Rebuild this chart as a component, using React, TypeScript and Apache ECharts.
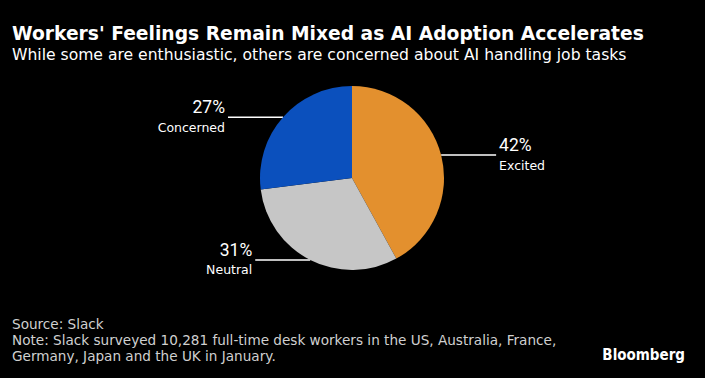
import React, { useEffect, useRef } from "react";
import * as echarts from "echarts";

const categories = ["Excited", "Neutral", "Concerned"];
const values = [42, 31, 27];
const colors = ["#E3902E", "#C6C6C6", "#0B50BD"];

const FONT = "'DejaVu Sans', sans-serif";
const COND = "'DejaVu Sans Condensed', 'DejaVu Sans', sans-serif";
const PCT = "Roboto, 'DejaVu Sans Condensed', sans-serif";

const title = "Workers' Feelings Remain Mixed as AI Adoption Accelerates";
const subtitle = "While some are enthusiastic, others are concerned about AI handling job tasks";
const footer = [
  "Source: Slack",
  "Note: Slack surveyed 10,281 full-time desk workers in the US, Australia, France,",
  "Germany, Japan and the UK in January.",
];

export default function App() {
  const ref = useRef<HTMLDivElement>(null);
  useEffect(() => {
    document.body.style.margin = "0";
    document.body.style.background = "#000";
    const chart = echarts.init(ref.current!, null, { renderer: "svg" });
    chart.setOption({
      animation: false,
      backgroundColor: "#000",
      graphic: [
        { type: "text", x: 12, y: 33, style: { text: title, fill: "#fff", font: `bold 18.7px ${FONT}`, verticalAlign: "middle" } },
        { type: "text", x: 12, y: 55, style: { text: subtitle, fill: "#fff", font: `15.6px ${FONT}`, verticalAlign: "middle" } },
        ...footer.map((t, i) => ({
          type: "text",
          x: 12,
          y: 324 + i * 16,
          style: { text: t, fill: "#d0d0d0", font: `13.6px ${FONT}`, verticalAlign: "middle" },
        })),
        { type: "text", x: 685, y: 355, style: { text: "Bloomberg", fill: "#fff", font: `bold 15px ${COND}`, align: "right", verticalAlign: "middle" } },
      ],
      series: [
        {
          type: "pie",
          center: [352, 178],
          radius: [0, 92],
          startAngle: 90,
          clockwise: true,
          avoidLabelOverlap: false,
          itemStyle: { borderWidth: 0 },
          label: {
            show: true,
            position: "outside",
            formatter: (p: any) => `{p|${p.value}%}\n{n|${p.name}}`,
            distanceToLabelLine: 3,
            rich: {
              p: { fontSize: 17.5, fontWeight: 400, color: "#fff", fontFamily: PCT, lineHeight: 20 },
              n: { fontSize: 12.5, color: "#fff", fontFamily: FONT, lineHeight: 20 },
            },
          },
          labelLine: { show: true, length: 0, length2: 55, lineStyle: { color: "#fff", width: 1.5 } },
          emphasis: { disabled: true },
          data: categories.map((c, i) => ({ name: c, value: values[i], itemStyle: { color: colors[i] } })),
        },
      ],
    });
    return () => chart.dispose();
  }, []);
  return <div ref={ref} style={{ width: 705, height: 378 }} />;
}
